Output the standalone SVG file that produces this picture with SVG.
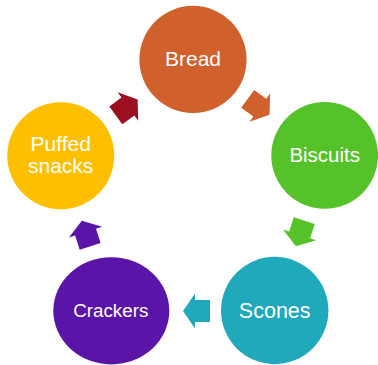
<svg xmlns="http://www.w3.org/2000/svg" width="378" height="365" viewBox="0 0 378 365">
  <defs>
    <style>
      .lbl { font-family: "Liberation Sans", Arial, sans-serif; fill: #FFFFFF; text-anchor: middle; }
    </style>
    <path id="arr" d="M13.5,0 L1.5,17.5 L1.5,11 L-13.5,11 L-13.5,-11 L1.5,-11 L1.5,-17.5 Z"/>
  </defs>
  <rect width="378" height="365" fill="#FFFFFF"/>
  <g id="connectors">
    <use href="#arr" fill="#D0612C" transform="translate(258.6,106.8) rotate(36)"/>
    <use href="#arr" fill="#55C229" transform="translate(300.1,233.5) rotate(108)"/>
    <use href="#arr" fill="#1FA9BA" transform="translate(196.5,311) rotate(180)"/>
    <use href="#arr" fill="#5B14A8" transform="translate(86,233.6) rotate(-108)"/>
    <use href="#arr" fill="#9B1020" transform="translate(126.7,107.4) rotate(-36)"/>
  </g>
  <g id="bread">
    <circle cx="193" cy="59.4" r="53.6" fill="#D0612C"/>
    <text class="lbl" x="193" y="66" font-size="21">Bread</text>
  </g>
  <g id="biscuits">
    <circle cx="324.7" cy="155.4" r="53.4" fill="#55C229"/>
    <text class="lbl" x="324.7" y="162" font-size="20.5">Biscuits</text>
  </g>
  <g id="scones">
    <circle cx="274.7" cy="310.5" r="53.7" fill="#1FA9BA"/>
    <text class="lbl" x="274.7" y="318" font-size="21.5">Scones</text>
  </g>
  <g id="crackers">
    <ellipse cx="111.3" cy="310.8" rx="58" ry="53.6" fill="#5B14A8"/>
    <text class="lbl" x="110.8" y="317" font-size="18.8">Crackers</text>
  </g>
  <g id="puffed-snacks">
    <circle cx="60.8" cy="155.7" r="53.5" fill="#FEBF00"/>
    <text class="lbl" x="60.7" y="150.7" font-size="21">Puffed</text>
    <text class="lbl" x="60.7" y="172.7" font-size="21">snacks</text>
  </g>
</svg>
